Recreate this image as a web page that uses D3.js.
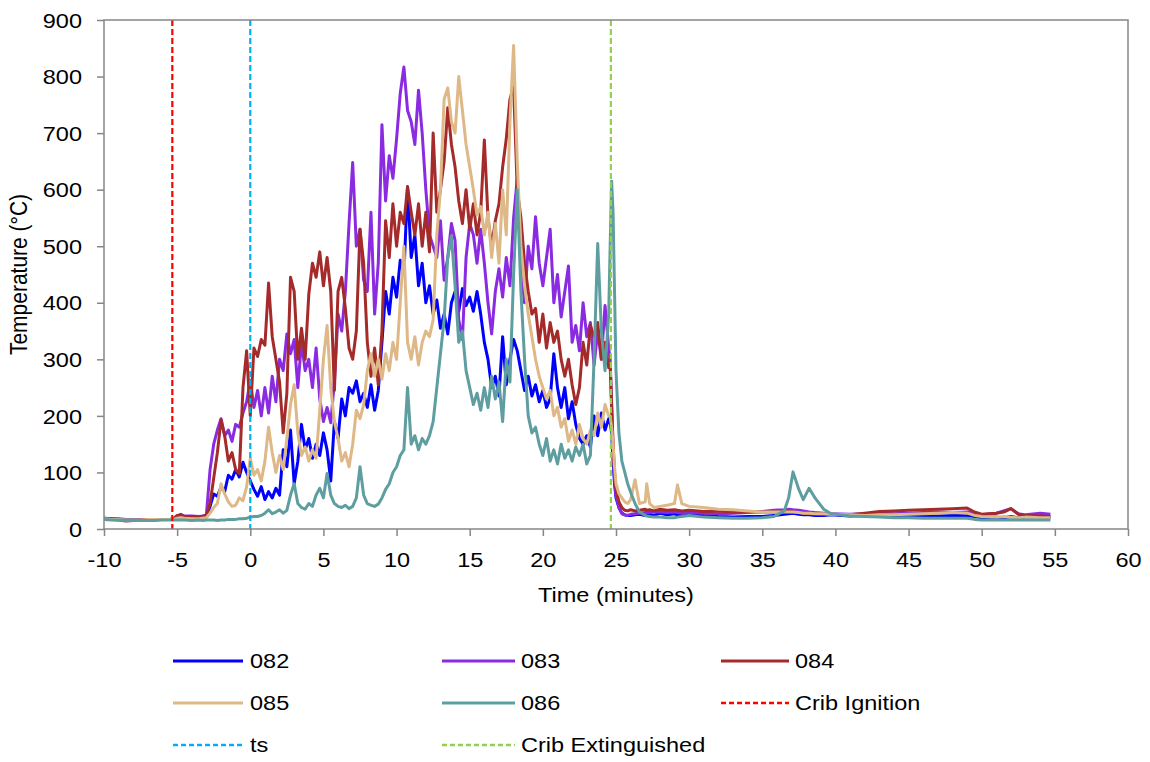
<!DOCTYPE html>
<html><head><meta charset="utf-8">
<script src="https://cdn.jsdelivr.net/npm/d3@7"></script>
<style>
body{margin:0;background:#fff}
svg{display:block}
text{font-family:"Liberation Sans",Arial,sans-serif;fill:#000}
</style>
</head><body>
<svg id="chart" width="1150" height="762"></svg>
<script>
// ---------- DATA ----------
const times = [
 -10,-9.5,-9,-8.5,-8,-7.5,-7,-6.5,-6,-5.5,-5.25,-5,-4.75,-4.5,-4,-3.5,-3.25,
 -3,-2.75,-2.5,-2.25,-2,-1.75,-1.5,-1.25,-1,-0.75,-0.5,-0.25,
 0,0.25,0.5,0.75,1,1.25,1.5,1.75,2,2.25,2.5,2.75,
 3,3.25,3.5,3.75,4,4.25,4.5,4.75,5,5.25,5.5,5.75,
 6,6.25,6.5,6.75,7,7.25,7.5,7.75,8,8.25,8.5,8.75,
 9,9.25,9.5,9.75,10,10.25,10.5,10.75,11,11.25,11.5,11.75,
 12,12.25,12.5,12.75,13,13.25,13.5,13.75,14,14.25,14.5,14.75,
 15,15.25,15.5,15.75,16,16.25,16.5,16.75,17,17.25,17.5,17.75,
 18,18.25,18.5,18.75,19,19.25,19.5,19.75,20,20.25,20.5,20.75,
 21,21.25,21.5,21.75,22,22.25,22.5,22.75,23,23.25,23.5,23.75,
 24,24.25,24.5,
 24.6,24.7,24.8,24.9,25.0,25.2,25.4,25.6,25.8,26.0,26.3,26.6,27.0,27.1,27.3,27.6,28.0,28.5,29.0,29.2,29.5,
 30,31,32,33,34,35,35.8,36.5,36.8,37.1,37.5,37.8,38.2,38.6,39.2,39.7,
 41,42,43,44,45,46,47,48,49,49.5,50,51,51.5,52,52.5,53,54,54.7
];

const s082 = [
 19,18,17,16,16,16,17,17,17,17,17,18,19,18,18,18,19,
 22,40,62,58,74,66,95,88,105,92,118,100,
 85,70,58,75,52,66,55,72,60,140,110,175,
 80,120,185,140,160,125,150,130,170,140,85,190,
 160,230,200,250,240,262,225,240,215,255,210,245,
 330,420,380,445,410,475,450,605,480,520,430,470,
 400,430,380,405,355,380,345,400,420,385,425,395,
 410,385,420,380,330,300,250,270,235,340,255,300,
 335,315,280,245,270,235,255,225,245,215,230,310,
 250,215,250,195,225,185,160,150,165,145,200,165,
 205,175,195,
 190,170,120,80,55,38,28,25,24,24,25,26,24,25,26,24,28,25,27,25,24,
 26,24,22,21,22,22,24,26,27,28,26,25,25,24,24,25,
 23,24,22,23,22,24,23,24,24,22,20,21,20,22,20,21,21,20
];

const s083 = [
 19,18,18,17,17,17,17,17,17,17,18,22,26,23,23,22,23,
 25,105,150,175,195,165,175,155,185,180,205,225,
 262,215,245,200,250,205,270,225,300,280,345,310,
 335,250,330,280,300,250,320,230,190,215,188,260,
 380,350,420,540,648,500,530,440,420,560,380,470,
 715,580,660,620,690,770,817,740,720,680,776,700,
 600,520,500,480,545,440,480,540,510,370,335,480,
 540,520,470,530,470,400,345,420,460,410,480,430,
 550,620,460,400,500,460,552,470,430,480,530,400,
 450,375,420,465,330,360,315,400,340,365,290,350,
 300,395,320,
 300,220,140,90,60,38,27,25,24,26,27,28,29,30,29,30,30,29,30,29,28,
 29,28,27,28,29,31,33,34,35,34,33,32,30,29,28,27,
 26,27,28,27,28,29,30,29,30,27,25,28,32,36,27,25,28,26
];

const s084 = [
 18,17,16,14,15,16,17,17,17,17,18,24,25,22,22,21,22,
 24,45,90,135,193,165,120,135,105,98,250,315,
 200,320,305,335,325,435,340,300,260,170,240,445,
 420,300,355,300,415,470,445,490,430,480,420,245,
 420,445,390,320,300,350,530,470,330,270,320,255,
 350,545,480,575,500,560,540,605,560,520,575,500,
 560,490,700,560,600,650,745,680,640,580,540,600,
 530,575,520,560,688,550,500,545,575,640,690,760,
 782,600,550,470,420,380,390,330,380,320,365,330,
 350,300,270,300,255,220,250,330,290,360,340,365,
 300,330,285,
 290,220,150,100,70,48,38,33,32,34,32,33,35,33,34,32,35,33,34,33,32,
 33,31,32,30,31,30,30,31,31,30,29,28,27,27,26,26,
 25,28,31,32,33,34,35,36,37,30,26,28,30,36,26,24,23,22
];

const s085 = [
 18,17,17,16,16,16,17,17,17,17,17,19,20,19,18,18,19,
 20,28,38,45,80,62,48,40,42,55,50,75,
 125,95,105,85,120,180,135,100,130,105,160,220,
 255,170,130,145,120,140,125,210,300,360,250,190,
 160,120,135,110,150,210,195,220,280,310,270,300,
 265,310,280,330,300,400,500,330,300,340,290,330,
 350,340,370,520,600,760,780,720,700,800,740,680,
 640,600,555,570,520,560,480,540,470,600,520,720,
 855,650,500,430,380,340,300,270,250,230,245,200,
 215,180,195,155,175,150,185,160,150,175,165,205,
 180,220,200,
 200,180,150,110,80,62,55,48,45,52,87,45,48,80,45,38,40,42,45,78,45,
 40,38,35,34,32,30,30,30,30,30,29,28,28,27,27,26,
 25,24,25,25,26,27,28,29,28,24,22,21,22,21,20,21,20,20
];

const s086 = [
 17,16,16,16,16,15,15,15,16,16,16,16,16,16,15,16,15,
 16,16,16,15,16,16,17,17,17,18,18,19,
 21,22,22,24,28,34,27,30,34,28,33,60,
 80,45,38,35,45,40,60,72,55,98,60,45,
 40,38,42,36,40,55,110,60,45,42,40,44,
 55,70,80,100,110,130,140,250,150,165,140,160,
 150,165,190,250,310,370,480,518,430,330,350,280,
 250,220,240,210,250,215,270,230,260,190,300,260,
 450,600,420,300,200,170,180,150,130,160,120,140,
 115,150,125,140,120,145,130,150,115,130,300,505,
 350,280,380,
 500,615,560,420,280,170,120,100,80,65,45,30,24,23,22,21,21,20,20,21,22,
 24,21,20,19,19,20,22,32,55,101,70,52,72,55,35,27,
 23,22,21,20,20,19,19,19,19,17,16,16,16,16,16,16,16,16
];

const seriesNames  = ["082","083","084","085","086"];
const seriesColors = ["#0000ff","#8a2be2","#a52a2a","#deb887","#5f9ea0"];
const seriesValues = [s082, s083, s084, s085, s086];

const markerNames  = ["Crib Ignition","ts","Crib Extinguished"];
const markerTimes  = [-5.33, 0, 24.65];
const markerColors = ["#ff0000","#00b0f0","#92d050"];

const xTickValues = [-10,-5,0,5,10,15,20,25,30,35,40,45,50,55,60];
const yTickValues = [0,100,200,300,400,500,600,700,800,900];
const xTitle = "Time (minutes)";
const yTitle = "Temperature (°C)";

// ---------- CHART ----------
const SX = 1.12;     // horizontal text stretch seen in reference
const FS = 21;
const svg = d3.select("#chart");
const L = 104, R = 1128, T = 20, B = 529;
const x = d3.scaleLinear().domain([-10, 60]).range([L, R]);
const y = d3.scaleLinear().domain([0, 900]).range([B, T]);
const axisColor = "#868686";

function stretch(sel){
  sel.each(function(){
    const t = d3.select(this);
    const xv = +(t.attr("x") || 0);
    t.attr("x", xv / SX).attr("transform", (t.attr("transform") || "") + " scale(" + SX + ",1)");
  });
}

svg.append("defs").append("clipPath").attr("id","plotclip")
  .append("rect").attr("x", L).attr("y", T).attr("width", R - L).attr("height", B - T);

// axes
const gx = svg.append("g").attr("transform", `translate(0,${B})`)
  .call(d3.axisBottom(x).tickValues(xTickValues).tickSize(7).tickSizeOuter(0).tickPadding(16).tickFormat(d => String(d)));
gx.select(".domain").remove();
gx.selectAll(".tick line").attr("stroke", axisColor).attr("stroke-width", 1.5);
gx.selectAll(".tick text").attr("font-size", FS).attr("fill","#000").attr("font-family",'"Liberation Sans",Arial,sans-serif').call(stretch);

const gy = svg.append("g").attr("transform", `translate(${L},0)`)
  .call(d3.axisLeft(y).tickValues(yTickValues).tickSize(7).tickSizeOuter(0).tickPadding(15).tickFormat(d => String(d)));
gy.select(".domain").remove();
gy.selectAll(".tick line").attr("stroke", axisColor).attr("stroke-width", 1.5);
gy.selectAll(".tick text").attr("font-size", FS).attr("dy","0.34em").attr("fill","#000").attr("font-family",'"Liberation Sans",Arial,sans-serif').call(stretch);

// series lines
const plot = svg.append("g").attr("clip-path", "url(#plotclip)");
const line = d3.line().x((d, i) => x(times[i])).y(d => y(d));
seriesValues.forEach((vals, k) => {
  plot.append("path").datum(vals)
    .attr("d", line)
    .attr("fill", "none")
    .attr("stroke", seriesColors[k])
    .attr("stroke-width", 3)
    .attr("stroke-linejoin", "round");
});

// marker dashed verticals
markerTimes.forEach((t, k) => {
  plot.append("line")
    .attr("x1", x(t)).attr("x2", x(t))
    .attr("y1", y(900)).attr("y2", y(0))
    .attr("stroke", markerColors[k]).attr("stroke-width", 2.2)
    .attr("stroke-dasharray", "6,3");
});

// plot frame
svg.append("rect").attr("x", L).attr("y", T).attr("width", R - L).attr("height", B - T)
  .attr("fill", "none").attr("stroke", axisColor).attr("stroke-width", 1.5);

// axis titles
svg.append("text").attr("x", (L + R) / 2).attr("y", 602).attr("text-anchor", "middle")
  .attr("font-size", FS).text(xTitle).call(stretch);
svg.append("text").attr("text-anchor", "middle").attr("font-size", FS)
  .attr("transform", `translate(27,${(T + B) / 2}) rotate(-90) scale(1,${SX})`).text(yTitle);

// legend
const legendItems = seriesNames.map((n, k) => ({name: n, color: seriesColors[k], dash: null}))
  .concat(markerNames.map((n, k) => ({name: n, color: markerColors[k], dash: "5,3"})));
const colLine = [[173, 243], [442, 515], [721, 789]];
const colText = [250, 521, 795];
const rowY = [661, 703, 745];
legendItems.forEach((it, i) => {
  const c = i % 3, r = Math.floor(i / 3);
  const g = svg.append("g");
  g.append("line").attr("x1", colLine[c][0]).attr("x2", colLine[c][1])
    .attr("y1", rowY[r]).attr("y2", rowY[r])
    .attr("stroke", it.color).attr("stroke-width", it.dash ? 2.4 : 3)
    .attr("stroke-dasharray", it.dash);
  g.append("text").attr("x", colText[c]).attr("y", rowY[r]).attr("dy", "0.35em")
    .attr("font-size", FS).text(it.name).call(stretch);
});
</script>
</body></html>
